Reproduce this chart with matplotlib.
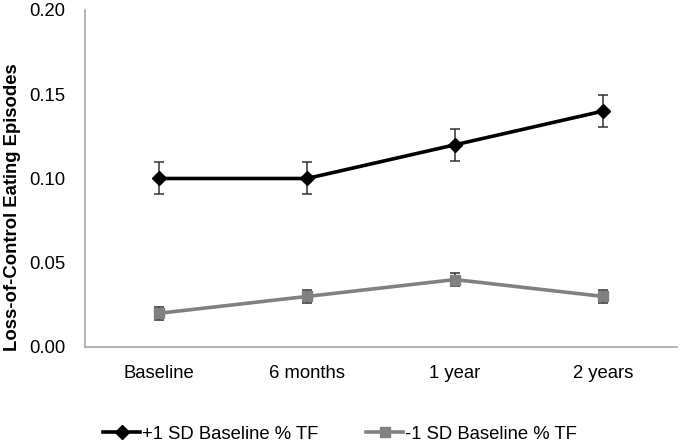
import matplotlib
matplotlib.use("Agg")
import matplotlib.pyplot as plt
import numpy as np

plt.rcParams['font.family'] = ['Liberation Sans', 'DejaVu Sans']

categories = ["Baseline", "6 months", "1 year", "2 years"]
high_vals = [0.10, 0.10, 0.12, 0.14]
high_err = [0.0095, 0.0095, 0.0095, 0.0095]
low_vals = [0.02, 0.03, 0.04, 0.03]
low_err = [0.004, 0.004, 0.004, 0.004]
series_names = ["+1 SD Baseline % TF", "-1 SD Baseline % TF"]

fig = plt.figure(figsize=(6.8, 4.44), dpi=100)
ax = fig.add_axes([0.125, 0.2185, 0.8706, 0.759])
x = np.arange(len(categories))

ax.errorbar(x, high_vals, yerr=high_err, fmt='none', ecolor='#303030',
            elinewidth=1.1, capsize=3.5, capthick=1.1, zorder=2)
ax.errorbar(x, low_vals, yerr=low_err, fmt='none', ecolor='#303030',
            elinewidth=1.1, capsize=3.5, capthick=1.1, zorder=2)
ax.plot(x, high_vals, color='black', lw=2.6, marker='D', markersize=7,
        label=series_names[0], zorder=3)
ax.plot(x, low_vals, color='#808080', lw=2.6, marker='s', markersize=7,
        label=series_names[1], zorder=3)

ax.set_xlim(-0.5, 3.5)
ax.set_ylim(0, 0.20)
ax.set_yticks([0, 0.05, 0.10, 0.15, 0.20])
ax.set_yticklabels(["0.00", "0.05", "0.10", "0.15", "0.20"])
ax.set_xticks(x)
ax.set_xticklabels(categories)
ax.tick_params(axis='both', length=0, labelsize=13.3, colors='black')
ax.tick_params(axis='x', pad=13)
ax.tick_params(axis='y', pad=14)
for s in ['top', 'right']:
    ax.spines[s].set_visible(False)
for s in ['left', 'bottom']:
    ax.spines[s].set_color('#a6a6a6')
    ax.spines[s].set_linewidth(1.2)
ax.set_ylabel("Loss-of-Control Eating Episodes", fontsize=13.3,
              fontweight='bold', labelpad=10)
ax.yaxis.set_label_coords(-0.108, 0.415)

leg = fig.legend(loc='center', bbox_to_anchor=(0.5, 0.022), ncol=2,
                 frameon=False, fontsize=13.3, handlelength=2.0,
                 handletextpad=0.1, columnspacing=2.6)

fig.savefig("out.png", dpi=100)
